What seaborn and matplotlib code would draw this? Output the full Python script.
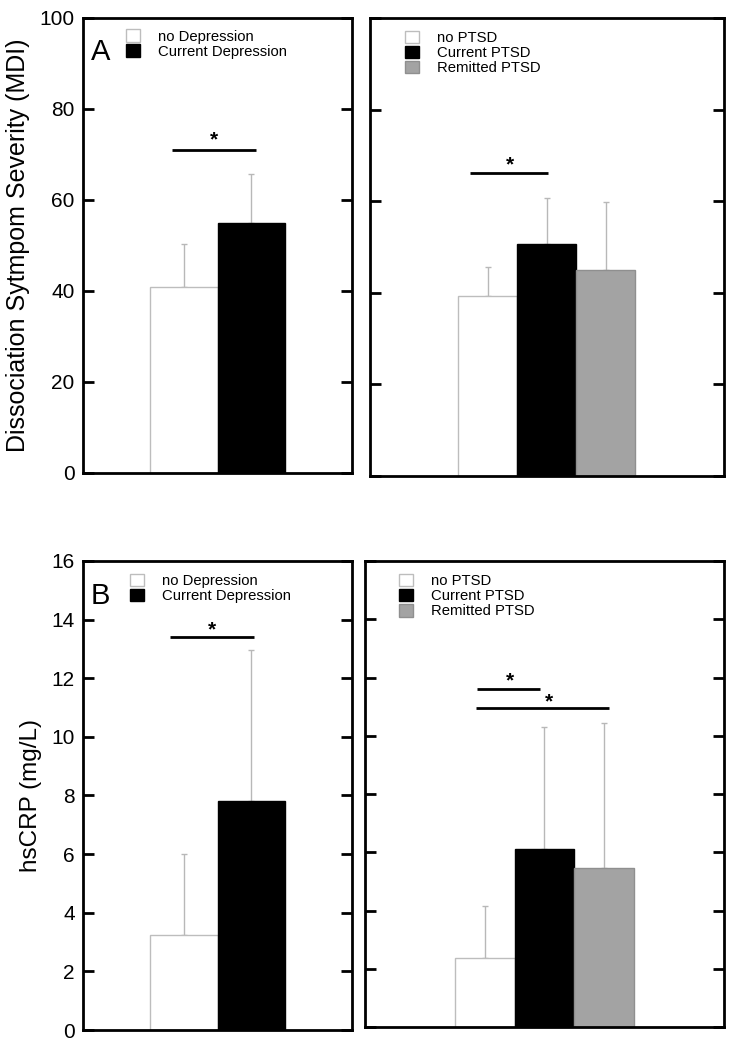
import numpy as np
import pandas as pd
import matplotlib
matplotlib.use('Agg')
import matplotlib.pyplot as plt
import seaborn as sns
from matplotlib.patches import Patch

sns.set_style('white')
plt.rcParams['font.family'] = ['Liberation Sans', 'DejaVu Sans']
plt.rcParams['text.color'] = 'black'
plt.rcParams['axes.labelcolor'] = 'black'
plt.rcParams['ytick.color'] = 'black'

# Grupos
dep_labels = ['no Depression', 'Current Depression']
ptsd_labels = ['no PTSD', 'Current PTSD', 'Remitted PTSD']

# Disociación (MDI): medias y desviaciones (solo hacia arriba)
mdi_dep_mean = [40.9, 55.0]
mdi_dep_sd = [9.5, 10.7]
mdi_ptsd_mean = [39.3, 50.7, 45.0]
mdi_ptsd_sd = [6.3, 10.0, 14.8]

# hsCRP (mg/L)
crp_dep_mean = [3.24, 7.8]
crp_dep_sd = [2.76, 5.15]
crp_ptsd_mean = [2.38, 6.12, 5.46]
crp_ptsd_sd = [1.77, 4.18, 4.99]

COLORES = ['#ffffff', '#000000', '#a3a3a3']
BORDES = ['#bdbdbd', '#000000', '#8f8f8f']
ERR_COLOR = '#b8b8b8'

fig = plt.figure(figsize=(7.29, 10.4), dpi=100)


def panel(rect, labels, means, sds, ymax, ystep, xlim, leg_anchor,
          sigs, letter=None, ylabel=None, ylabel_size=17):
    ax = fig.add_axes(rect)
    df = pd.DataFrame({'grupo': labels, 'valor': means})
    sns.barplot(data=df, x='grupo', y='valor', hue='grupo', order=labels,
                palette=COLORES[:len(labels)], width=1.0, legend=False,
                saturation=1, errorbar=None, ax=ax, zorder=2)
    for p, ec in zip(ax.patches, BORDES):
        p.set_edgecolor(ec)
        p.set_linewidth(1.0)
    x = np.arange(len(labels))
    ax.errorbar(x, means, yerr=[np.zeros(len(sds)), sds], fmt='none',
                ecolor=ERR_COLOR, elinewidth=1.0, capsize=2.5, capthick=1.0,
                zorder=1)

    # Barras de significancia
    for x0, x1, y, xs, ys in sigs:
        ax.plot([x0, x1], [y, y], color='black', lw=2, solid_capstyle='butt')
        ax.text(xs, ys, '*', ha='center', va='center', fontsize=15,
                fontweight='bold')

    ax.set_xlim(*xlim)
    ax.set_ylim(0, ymax)
    ax.set_yticks(np.arange(0, ymax + 0.1, ystep))
    ax.set_xticks([])
    ax.set_xlabel('')
    ax.tick_params(axis='y', direction='in', length=8, width=2,
                   left=True, right=True, labelsize=15, pad=6,
                   labelcolor='black')
    if ylabel is None:
        ax.set_ylabel('')
        ax.tick_params(axis='y', labelleft=False)
    else:
        ax.set_ylabel(ylabel, fontsize=ylabel_size, labelpad=7)
    for s in ax.spines.values():
        s.set_visible(True)
        s.set_linewidth(2)
        s.set_color('black')

    handles = [Patch(facecolor=c, edgecolor=e, linewidth=1.0)
               for c, e in zip(COLORES, BORDES)][:len(labels)]
    ax.legend(handles, labels, loc='upper left', bbox_to_anchor=leg_anchor,
              frameon=False, fontsize=10.7, handlelength=0.95, handleheight=0.9,
              handletextpad=1.2, labelspacing=0.05, borderpad=0,
              borderaxespad=0)
    if letter:
        ax.text(0.03, 0.955, letter, transform=ax.transAxes, fontsize=21,
                ha='left', va='top')
    return ax


panel([0.1139, 0.5452, 0.369, 0.4375], dep_labels, mdi_dep_mean, mdi_dep_sd,
      100, 20, (-1.5, 2.5), (0.16, 0.975),
      [(-0.17, 1.07, 71.0, 0.45, 73.2)], letter='A',
      ylabel='Dissociation Sytmpom Severity (MDI)', ylabel_size=18)
panel([0.5075, 0.5423, 0.4856, 0.4404], ptsd_labels, mdi_ptsd_mean, mdi_ptsd_sd,
      100, 20, (-2.0, 4.0), (0.10, 0.972),
      [(-0.31, 1.01, 66.2, 0.38, 68.0)])
panel([0.1139, 0.0096, 0.369, 0.451], dep_labels, crp_dep_mean, crp_dep_sd,
      16, 2, (-1.5, 2.5), (0.175, 0.972),
      [(-0.2, 1.04, 13.4, 0.42, 13.65)], letter='B',
      ylabel='hsCRP (mg/L)', ylabel_size=17.5)
panel([0.5007, 0.0125, 0.4924, 0.448], ptsd_labels, crp_ptsd_mean, crp_ptsd_sd,
      16, 2, (-2.0, 4.0), (0.095, 0.972),
      [(-0.13, 0.92, 11.6, 0.42, 11.9), (-0.15, 2.07, 10.96, 1.07, 11.15)])

fig.savefig('out.png', dpi=100)
